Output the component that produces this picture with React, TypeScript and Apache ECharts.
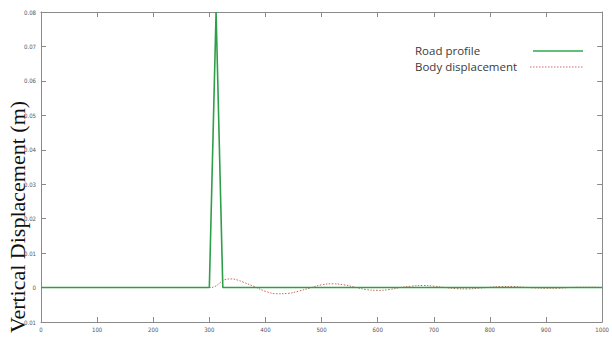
import React, { useEffect, useRef } from "react";
import * as echarts from "echarts";

const roadX = [0, 300, 312, 324, 1000];
const roadY = [0, 0, 0.08, 0, 0];

const bodyX = [0, 290, 300, 310, 320, 330, 340, 350, 360, 380, 400, 420, 440, 460, 480, 500, 520, 540, 560, 580, 600, 620, 640, 660, 680, 700, 720, 740, 760, 780, 800, 820, 840, 860, 880, 900, 920, 940, 960, 980, 1000];
const bodyY = [0, 0, 0, 0.0003, 0.0015, 0.0024, 0.0025, 0.0022, 0.0016, 0.0003, -0.0011, -0.0018, -0.0017, -0.001, -0.0001, 0.0008, 0.0011, 0.0008, 0.0001, -0.0006, -0.0008, -0.0006, 0.0, 0.0004, 0.0006, 0.0004, 0.0, -0.0003, -0.0004, -0.0002, 0.0001, 0.0003, 0.0003, 0.0001, -0.0001, -0.0002, -0.0002, 0, 0.0001, 0.0001, 0];

const legendNames = ["Road profile", "Body displacement"];
const yTitle = "Vertical Displacement (m)";

export default function App() {
  const ref = useRef<HTMLDivElement>(null);
  useEffect(() => {
    const chart = echarts.init(ref.current!, null, { renderer: "svg" });
    const axisLine = { show: true, onZero: false, lineStyle: { color: "#8a8a8a", width: 1 } };
    const tick = { show: true, inside: true, length: 5, lineStyle: { color: "#8a8a8a" } };
    const lblFont = "DejaVu Sans Condensed, DejaVu Sans";
    chart.setOption({
      animation: false,
      backgroundColor: "#ffffff",
      grid: { left: 41, right: 4, top: 12, bottom: 23 },
      xAxis: [
        {
          type: "value", min: 0, max: 1000, interval: 100,
          axisLine, axisTick: tick, splitLine: { show: false },
          axisLabel: { fontSize: 6, color: "#555", margin: 4, fontFamily: lblFont, formatter: (v: number) => String(v) },
        },
        {
          type: "value", position: "top", min: 0, max: 1000, interval: 100,
          axisLine, axisTick: tick, splitLine: { show: false }, axisLabel: { show: false },
        },
      ],
      yAxis: [
        {
          type: "value", min: -0.01, max: 0.08, interval: 0.01,
          axisLine, axisTick: tick, splitLine: { show: false },
          axisLabel: {
            fontSize: 6, color: "#555", margin: 5, fontFamily: lblFont,
            formatter: (v: number) => (Math.abs(v) < 1e-9 ? "0" : v.toFixed(2)),
          },
        },
        {
          type: "value", position: "right", min: -0.01, max: 0.08, interval: 0.01,
          axisLine, axisTick: tick, splitLine: { show: false }, axisLabel: { show: false },
        },
      ],
      series: [
        {
          name: legendNames[1], type: "line", symbol: "none", smooth: 0.4,
          data: bodyX.map((x, i) => [x, bodyY[i]]),
          lineStyle: { color: "#c8665a", width: 1, type: [1.5, 1.5] },
          z: 2,
        },
        {
          name: legendNames[0], type: "line", symbol: "none",
          data: roadX.map((x, i) => [x, roadY[i]]),
          lineStyle: { color: "#2e9e48", width: 1.6 },
          z: 3,
        },
      ],
      graphic: [
        {
          type: "text", rotation: Math.PI / 2,
          x: 17, y: 217,
          style: { text: yTitle, font: "22px 'Liberation Serif', 'Times New Roman', serif", fill: "#111", textAlign: "center", textVerticalAlign: "middle" },
        },
        {
          type: "text", x: 415, y: 50,
          style: { text: legendNames[0], font: "11.5px 'Open Sans', sans-serif", fill: "#3a3a3a", textVerticalAlign: "middle" },
        },
        {
          type: "text", x: 415, y: 66,
          style: { text: legendNames[1], font: "11.5px 'Open Sans', sans-serif", fill: "#3a3a3a", textVerticalAlign: "middle" },
        },
        {
          type: "line", shape: { x1: 533, y1: 51, x2: 583, y2: 51 },
          style: { stroke: "#2eaa4e", lineWidth: 1.5 },
        },
        {
          type: "line", shape: { x1: 530, y1: 67, x2: 583, y2: 67 },
          style: { stroke: "#d86a6a", lineWidth: 1, lineDash: [1.5, 1.5] },
        },
      ],
    });
    return () => chart.dispose();
  }, []);
  return <div ref={ref} style={{ width: 612, height: 345, position: "absolute", left: 0, top: 0 }} />;
}
